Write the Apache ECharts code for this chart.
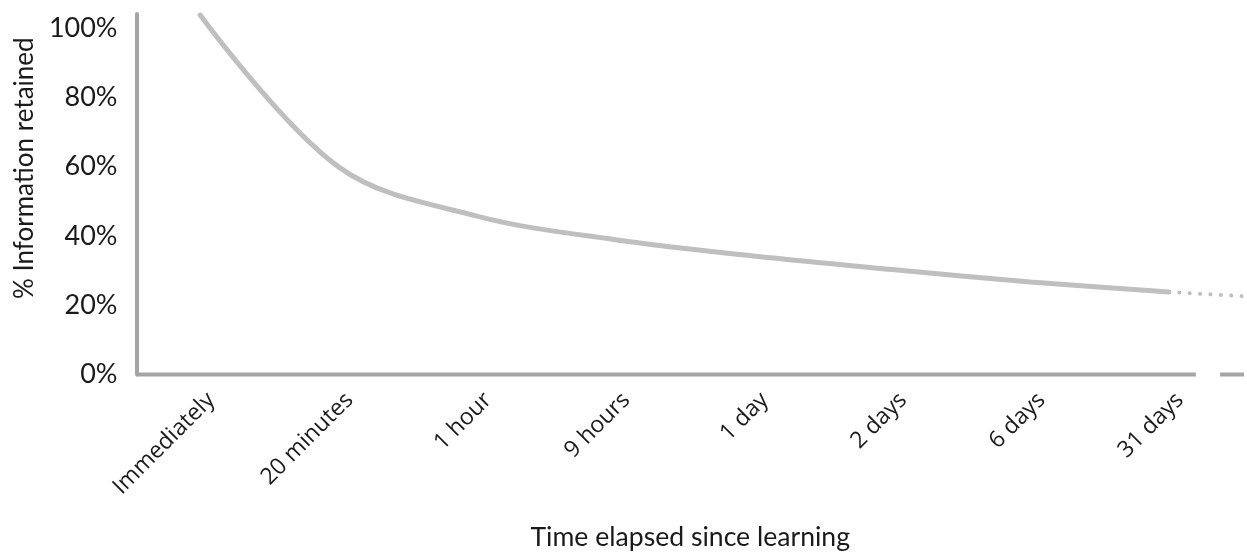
<!DOCTYPE html>
<html>
<head>
<meta charset="utf-8">
<style>
  html, body { margin: 0; padding: 0; background: #ffffff; }
  #chart { width: 1247px; height: 552px; }
</style>
<script src="https://cdn.jsdelivr.net/npm/echarts@6/dist/echarts.min.js"></script>
</head>
<body>
<div id="chart"></div>
<script>
// ---- data ----
const categories = ['Immediately', '20 minutes', '1 hour', '9 hours', '1 day', '2 days', '6 days', '31 days'];
const retained = [103.7, 59.9, 45.7, 38.9, 34.2, 30.3, 26.7, 23.8];
const extrapolated = [23.8, 22.6];
const yTicks = [0, 20, 40, 60, 80, 100];

// ---- layout constants (axis coordinates) ----
const X_MIN = -0.46, X_MAX = 7.543;
const EXTRAP_END = 7.53;
const AXIS_BREAK_START = 7.195, AXIS_BREAK_END = 7.37;
const LABEL_SHIFT = 0.08;

const axisColor = '#a5a5a5';
const curveColor = '#bfbfbf';

const chart = echarts.init(document.getElementById('chart'));
chart.setOption({
  animation: false,
  backgroundColor: '#ffffff',
  grid: { left: 136.5, right: 3, top: 14, bottom: 177.5, containLabel: false, outerBoundsMode: 'none' },
  xAxis: {
    type: 'value',
    min: X_MIN,
    max: X_MAX,
    axisLine: { show: false },
    axisTick: { show: false },
    splitLine: { show: false },
    axisLabel: {
      customValues: categories.map((c, i) => i + LABEL_SHIFT),
      formatter: v => categories[Math.round(v)],
      rotate: 45,
      margin: 22,
      fontFamily: 'Open Sans',
      fontSize: 23,
      color: '#1a1a1a'
    },
    name: 'Time elapsed since learning',
    nameLocation: 'middle',
    nameGap: 149,
    nameTextStyle: { fontFamily: 'Lato', fontSize: 26.6, color: '#1a1a1a' }
  },
  yAxis: {
    type: 'value',
    min: 0,
    max: 104,
    axisLine: { show: true, onZero: false, lineStyle: { color: axisColor, width: 4 } },
    axisTick: { show: false },
    splitLine: { show: false },
    axisLabel: {
      customValues: yTicks,
      formatter: '{value}%',
      margin: 19,
      fontFamily: 'Lato',
      fontSize: 27,
      color: '#1a1a1a'
    },
    name: '% Information retained',
    nameLocation: 'middle',
    nameRotate: 90,
    nameGap: 98,
    nameTextStyle: { fontFamily: 'Lato', fontSize: 26, color: '#1a1a1a', padding: [0, 0, 0, 52] }
  },
  series: [
    {
      type: 'line',
      data: [[X_MIN, 0], [AXIS_BREAK_START, 0]],
      symbol: 'none', silent: true, clip: false,
      lineStyle: { color: axisColor, width: 4 },
      z: 1
    },
    {
      type: 'line',
      data: [[AXIS_BREAK_END, 0], [X_MAX, 0]],
      symbol: 'none', silent: true, clip: false,
      lineStyle: { color: axisColor, width: 4 },
      z: 1
    },
    {
      type: 'line',
      data: retained.map((v, i) => [i, v]),
      smooth: 0.35,
      symbol: 'none',
      clip: false,
      lineStyle: { color: curveColor, width: 5, cap: 'round' },
      z: 3
    },
    {
      type: 'line',
      data: [[categories.length - 1, extrapolated[0]], [EXTRAP_END, extrapolated[1]]],
      symbol: 'none',
      clip: false,
      lineStyle: { color: curveColor, width: 4, type: [0.1, 10.3], cap: 'round' },
      z: 2
    }
  ]
});
</script>
</body>
</html>
